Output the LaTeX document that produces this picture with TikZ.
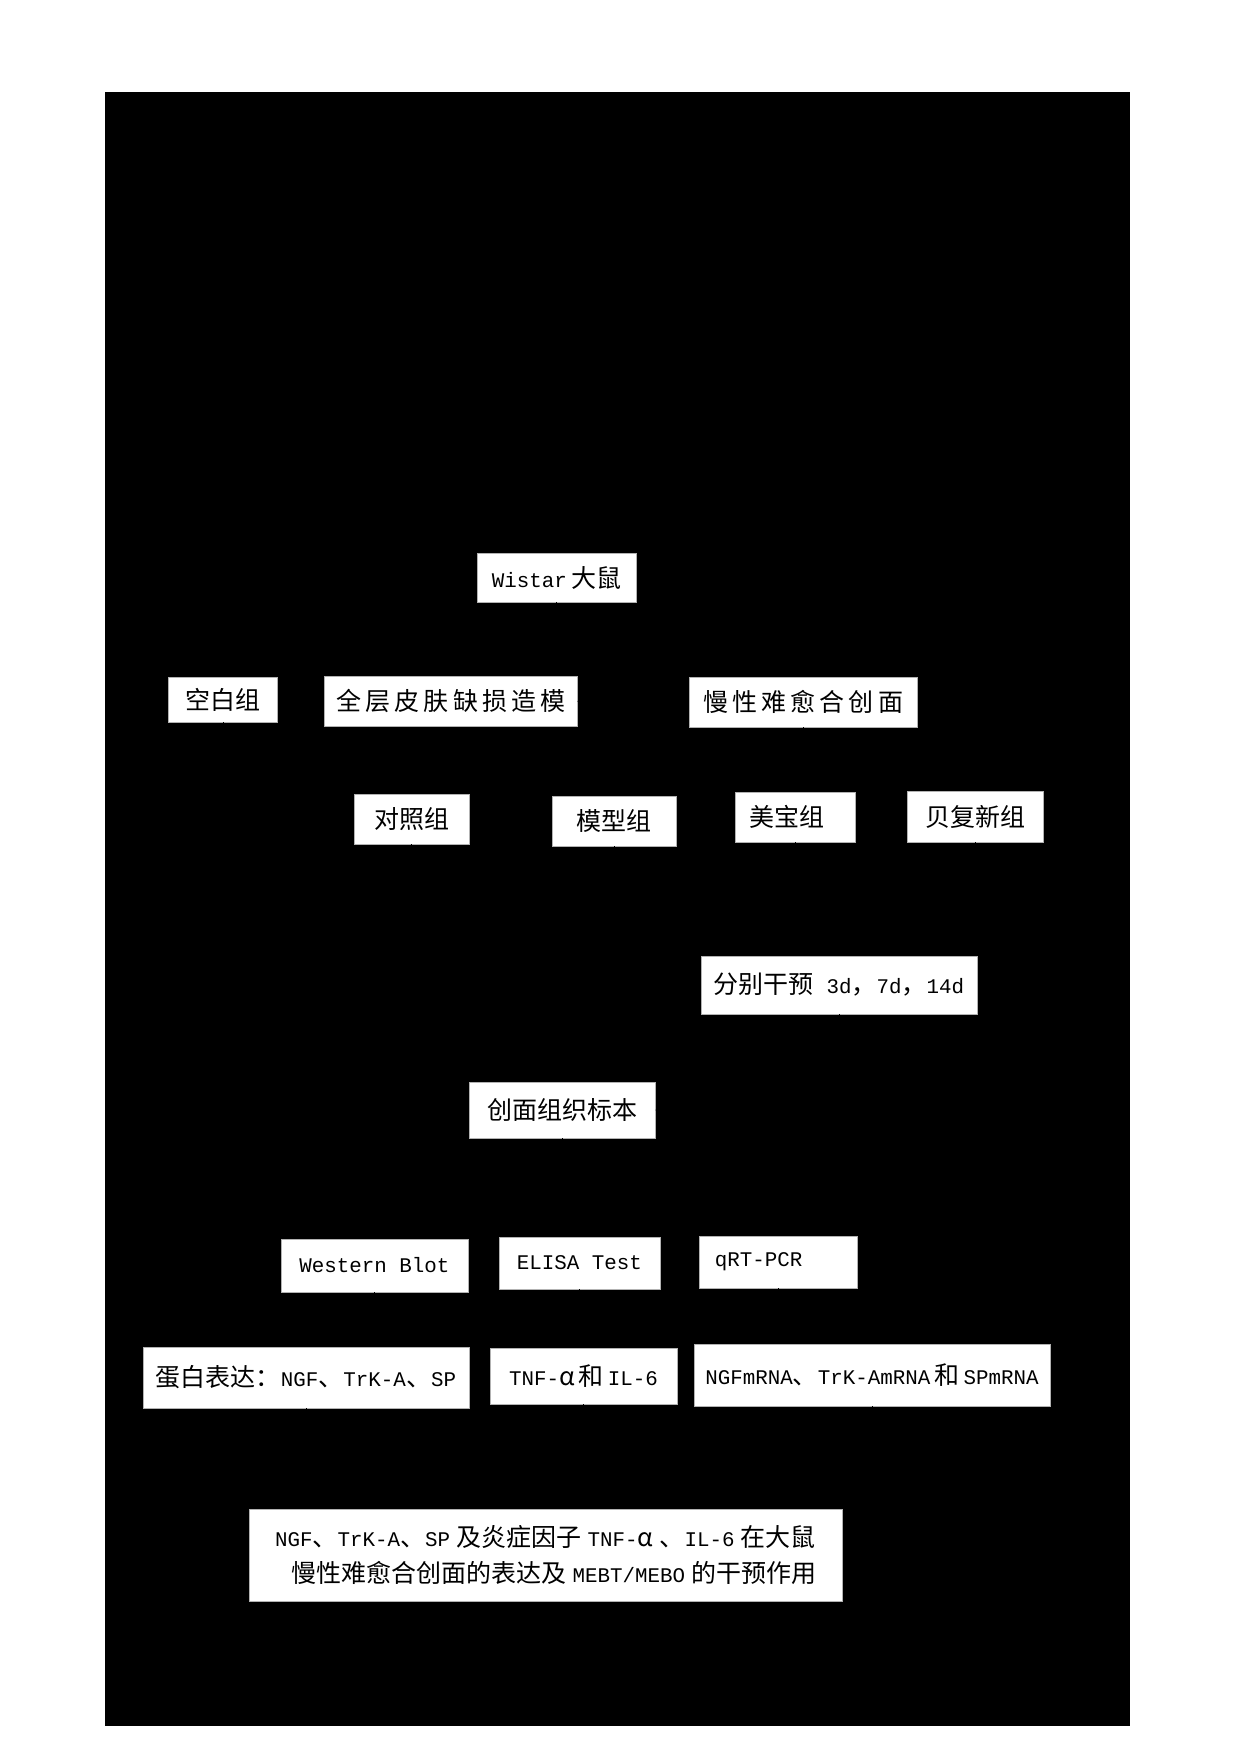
\documentclass[tikz,border=0pt]{standalone}
\usepackage{fontspec}
\setmainfont{Liberation Mono}
\newfontfamily\zhfont{Noto Sans CJK SC}
\newcommand{\zh}[1]{{\zhfont\fontsize{12pt}{17pt}\selectfont #1}}
\newcommand{\zhgap}{\kern2pt}
\usetikzlibrary{arrows.meta}

\begin{document}
\begin{tikzpicture}[x=0.48pt, y=-0.48pt,
    box/.style={rectangle, fill=white, draw=gray!60, very thin, inner sep=0pt, align=center,
        font=\fontsize{10pt}{17pt}\selectfont},
    link/.style={draw=black, thin, -{Stealth[length=5pt]}},
    line/.style={draw=black, thin}]
\useasboundingbox (0,0) rectangle (1240,1754);
\fill[black] (105,92) rectangle (1130,1726);

% top part
\node[box, minimum width=76.3pt, minimum height=23.5pt] (wistar) at (556.5,577.5) {Wistar\kern2pt\zh{大鼠}};
\node[box, minimum width=52.3pt, minimum height=21.6pt] (blank) at (223,699.5) {\zh{空白组}};
\node[box, minimum width=121.4pt, minimum height=24pt] (model) at (451,701) {\zh{全\zhgap 层\zhgap 皮\zhgap 肤\zhgap 缺\zhgap 损\zhgap 造\zhgap 模}};
\node[box, minimum width=109.4pt, minimum height=24pt] (chronic) at (803,702) {\zh{慢\zhgap 性\zhgap 难\zhgap 愈\zhgap 合\zhgap 创\zhgap 面}};

% groups
\node[box, minimum width=55.2pt, minimum height=24pt] (control) at (411.5,819) {\zh{对照组}};
\node[box, minimum width=59.5pt, minimum height=24pt] (modelgrp) at (614,821) {\zh{模型组}};
\node[box, minimum width=57.6pt, minimum height=24pt] (meibao) at (795,817) {\zh{美宝组}\kern8pt};
\node[box, minimum width=65.3pt, minimum height=24.5pt] (beifu) at (975,816.5) {\zh{贝复新组}};

\node[box, minimum width=132.5pt, minimum height=27.8pt] (interv) at (839,985) {\zh{分别干预} 3d\zh{，}7d\zh{，}14d};
\node[box, minimum width=89.3pt, minimum height=26.9pt] (tissue) at (562,1110) {\zh{创面组织标本}};

% methods
\node[box, minimum width=89.8pt, minimum height=25.4pt] (wb) at (374.5,1265.5) {Western Blot};
\node[box, minimum width=77.3pt, minimum height=25pt] (elisa) at (579.5,1263) {ELISA Test};
\node[box, minimum width=75.8pt, minimum height=25pt, text width=60.5pt, align=left] (pcr) at (778,1262) {qRT-PCR};

\node[box, minimum width=156.5pt, minimum height=29.3pt] (protein) at (306,1377.5) {\zh{蛋白表达：}NGF\zh{、}TrK-A\zh{、}SP};
\node[box, minimum width=89.8pt, minimum height=26.9pt] (cyto) at (583.5,1376) {TNF-\zh{α}\kern2pt\zh{和}\kern2pt IL-6};
\node[box, minimum width=170.9pt, minimum height=29.8pt] (mrna) at (872,1375) {NGFmRNA\zh{、}TrK-AmRNA\kern2pt\zh{和}\kern2pt SPmRNA};

\node[box, minimum width=284.6pt, minimum height=44.2pt] (result) at (545.5,1555) {NGF\zh{、}TrK-A\zh{、}SP\kern3pt\zh{及炎症因子}\kern3pt TNF-\zh{α}\kern3pt\zh{、}IL-6\kern3pt\zh{在大鼠}\\
    \kern8pt\zh{慢性难愈合创面的表达及}\kern3pt MEBT/MEBO\kern3pt\zh{的干预作用}};

% connectors
\coordinate (split1) at (556.5,640);
\draw[line] (wistar) -- (split1);
\draw[link] (split1) -| (blank);
\draw[link] (split1) -| (model);
\draw[link] (model) -- (chronic);

\coordinate (split2) at (803,765);
\draw[line] (chronic) -- (split2);
\draw[link] (split2) -| (control);
\draw[link] (split2) -| (modelgrp);
\draw[link] (split2) -| (meibao);
\draw[link] (split2) -| (beifu);

\coordinate (bus) at (839,905);
\draw[line] (control) |- (bus);
\draw[line] (modelgrp) |- (bus);
\draw[line] (meibao) |- (bus);
\draw[line] (beifu) |- (bus);
\draw[link] (bus) -- (interv);

\draw[link] (blank) |- (tissue);
\draw[link] (interv) |- (tissue);

\coordinate (split3) at (562,1195);
\draw[line] (tissue) -- (split3);
\draw[link] (split3) -| (wb);
\draw[link] (split3) -| (elisa);
\draw[link] (split3) -| (pcr);

\draw[link] (wb) -- (wb |- protein.north);
\draw[link] (elisa) -- (elisa |- cyto.north);
\draw[link] (pcr) -- (pcr |- mrna.north);

\coordinate (split4) at (545.5,1470);
\draw[line] (protein) |- (split4);
\draw[line] (cyto) |- (split4);
\draw[line] (mrna) |- (split4);
\draw[link] (split4) -- (result);

\end{tikzpicture}
\end{document}
